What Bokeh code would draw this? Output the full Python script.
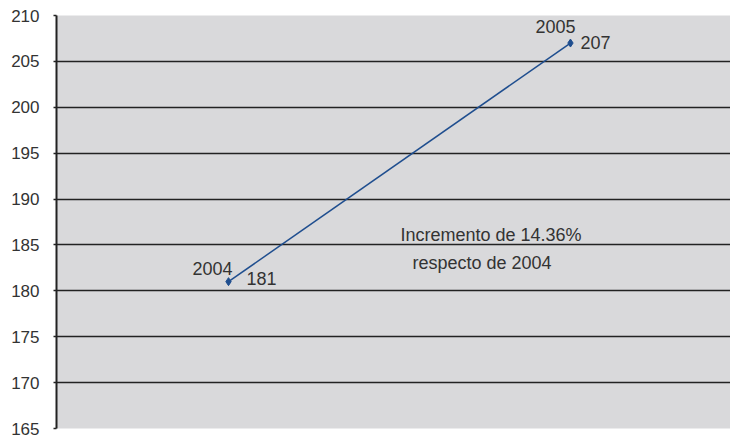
from bokeh.plotting import figure
from bokeh.models import Range1d, FixedTicker, Grid, ColumnDataSource, Label
from bokeh.core.properties import value
from bokeh.embed import file_html
from bokeh.resources import INLINE

years = [2004, 2005]
values = [181, 207]
year_labels = ["2004", "2005"]
value_labels = ["181", "207"]
y_ticks = [165, 170, 175, 180, 185, 190, 195, 200, 205, 210]
inner_grid = [170, 175, 180, 185, 190, 195, 200, 205]
edge_grid = [165, 210]
note_lines = ["Incremento de 14.36%", "respecto de 2004"]

FONT = "Liberation Sans"

p = figure(width=730, height=437, output_backend="svg", toolbar_location=None,
           x_range=Range1d(2003.497, 2005.468), y_range=Range1d(165, 210),
           min_border_left=56, min_border_right=0, min_border_top=15, min_border_bottom=9)
p.background_fill_color = "#d9d9db"
p.border_fill_color = "white"
p.outline_line_color = None

p.xaxis.visible = False
p.xgrid.visible = False

p.yaxis.ticker = FixedTicker(ticks=y_ticks)
p.yaxis.axis_line_color = "#222222"
p.yaxis.axis_line_width = 2
p.yaxis.major_tick_line_color = "#222222"
p.yaxis.major_tick_line_width = 1.5
p.yaxis.major_tick_out = 3
p.yaxis.major_tick_in = 0
p.yaxis.minor_tick_line_color = None
p.yaxis.major_label_text_font = FONT
p.yaxis.major_label_text_font_size = "17px"
p.yaxis.major_label_text_color = "#333333"
p.yaxis.major_label_standoff = 14

p.ygrid.ticker = FixedTicker(ticks=inner_grid)
p.ygrid.grid_line_color = "#222222"
p.ygrid.grid_line_width = 1.5
p.add_layout(Grid(dimension=1, ticker=FixedTicker(ticks=edge_grid),
                  grid_line_color="#9a9a9a", grid_line_width=3))

src = ColumnDataSource(dict(x=years, y=values, yl=year_labels, vl=value_labels,
                            yx=[4, 5], yy=[-13, -17], vx=[18, 10], vy=[-3, -1]))
p.line("x", "y", source=src, line_color="#1f4e8f", line_width=1.5)
p.scatter("x", "y", source=src, marker="diamond", size=8, color="#1f4e8f")

p.text("x", "y", text="yl", source=src, text_align="right", text_baseline="middle",
       x_offset="yx", y_offset="yy",
       text_font=value(FONT), text_font_size="18px", text_color="#333333")
p.text("x", "y", text="vl", source=src, text_align="left", text_baseline="middle",
       x_offset="vx", y_offset="vy",
       text_font=value(FONT), text_font_size="18px", text_color="#333333")

p.add_layout(Label(x=2004.503, y=186.07, text=note_lines[0], text_baseline="middle",
                   text_font=FONT, text_font_size="18px", text_color="#333333"))
p.add_layout(Label(x=2004.538, y=182.98, text=note_lines[1], text_baseline="middle",
                   text_font=FONT, text_font_size="18px", text_color="#333333"))

open("out.html", "w").write(file_html(p, INLINE))
